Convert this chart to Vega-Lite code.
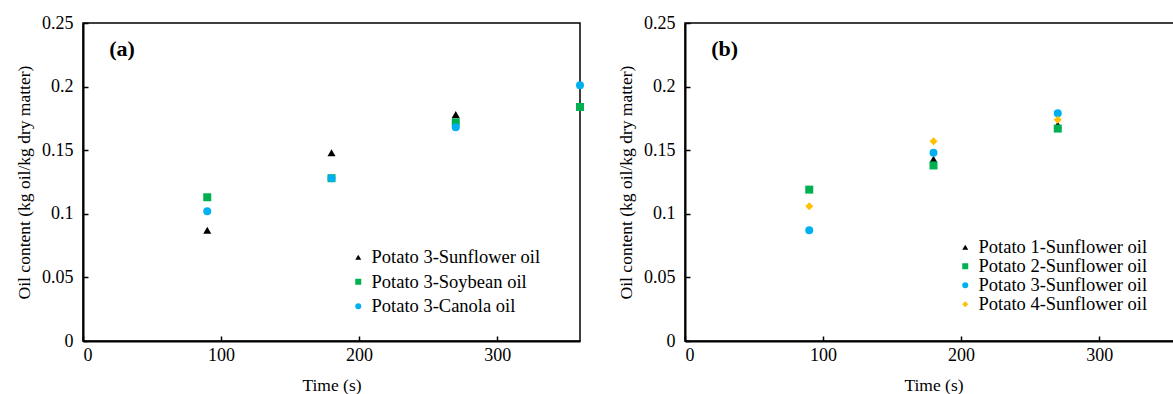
{
  "$schema": "https://vega.github.io/schema/vega-lite/v6.json",
  "background": "white",
  "padding": {"left": 14, "top": 13, "right": 0, "bottom": 0},
  "spacing": 31,
  "config": {
    "font": "Liberation Serif",
    "view": {"stroke": "black", "strokeWidth": 1.5},
    "axis": {
      "labelFont": "Liberation Serif", "titleFont": "Liberation Serif",
      "labelFontSize": 18, "titleFontSize": 17.5, "titleFontWeight": "normal",
      "labelColor": "black", "titleColor": "black",
      "domainColor": "black", "tickColor": "black", "domainWidth": 2, "tickWidth": 1.5,
      "grid": false, "tickSize": -5
    },
    "legend": {
      "labelFont": "Liberation Serif", "labelFontSize": 18.5, "labelColor": "black", "labelLimit": 400,
      "symbolStrokeWidth": 0, "labelOffset": 4, "symbolSize": 36
    }
  },
  "datasets": {
    "a": [
      {"t": 90, "v": 0.087, "s": "Potato 3-Sunflower oil"},
      {"t": 180, "v": 0.148, "s": "Potato 3-Sunflower oil"},
      {"t": 270, "v": 0.178, "s": "Potato 3-Sunflower oil"},
      {"t": 90, "v": 0.113, "s": "Potato 3-Soybean oil"},
      {"t": 180, "v": 0.128, "s": "Potato 3-Soybean oil"},
      {"t": 270, "v": 0.172, "s": "Potato 3-Soybean oil"},
      {"t": 360, "v": 0.184, "s": "Potato 3-Soybean oil"},
      {"t": 90, "v": 0.102, "s": "Potato 3-Canola oil"},
      {"t": 180, "v": 0.128, "s": "Potato 3-Canola oil"},
      {"t": 270, "v": 0.168, "s": "Potato 3-Canola oil"},
      {"t": 360, "v": 0.201, "s": "Potato 3-Canola oil"}
    ],
    "b": [
      {"t": 180, "v": 0.143, "s": "Potato 1-Sunflower oil"},
      {"t": 270, "v": 0.170, "s": "Potato 1-Sunflower oil"},
      {"t": 90, "v": 0.119, "s": "Potato 2-Sunflower oil"},
      {"t": 180, "v": 0.138, "s": "Potato 2-Sunflower oil"},
      {"t": 270, "v": 0.167, "s": "Potato 2-Sunflower oil"},
      {"t": 90, "v": 0.087, "s": "Potato 3-Sunflower oil"},
      {"t": 180, "v": 0.148, "s": "Potato 3-Sunflower oil"},
      {"t": 270, "v": 0.179, "s": "Potato 3-Sunflower oil"},
      {"t": 90, "v": 0.106, "s": "Potato 4-Sunflower oil"},
      {"t": 180, "v": 0.157, "s": "Potato 4-Sunflower oil"},
      {"t": 270, "v": 0.174, "s": "Potato 4-Sunflower oil"}
    ],
    "la": [{"t": 19, "v": 0.2295, "txt": "(a)"}],
    "lb": [{"t": 19, "v": 0.2295, "txt": "(b)"}]
  },
  "resolve": {"scale": {"color": "independent", "shape": "independent"}, "legend": {"color": "independent", "shape": "independent"}},
  "hconcat": [
    {
      "width": 497, "height": 318,
      "layer": [
        {
          "data": {"name": "a"},
          "mark": {"type": "point", "filled": true, "size": 64, "opacity": 1},
          "encoding": {
            "x": {"field": "t", "type": "quantitative", "scale": {"domain": [0, 360], "nice": false}, "axis": {"values": [0, 100, 200, 300], "title": "Time (s)", "titlePadding": 12, "labelPadding": 10}},
            "y": {"field": "v", "type": "quantitative", "scale": {"domain": [0, 0.25], "nice": false}, "axis": {"values": [0, 0.05, 0.1, 0.15, 0.2, 0.25], "format": "~g", "title": "Oil content (kg oil/kg dry matter)", "titlePadding": 8, "labelPadding": 15}},
            "color": {"field": "s", "type": "nominal", "scale": {"domain": ["Potato 3-Sunflower oil", "Potato 3-Soybean oil", "Potato 3-Canola oil"], "range": ["#000000", "#00b050", "#00b0f0"]}, "legend": {"title": null, "orient": "none", "legendX": 266, "legendY": 225, "rowPadding": 5.5}},
            "shape": {"field": "s", "type": "nominal", "scale": {"domain": ["Potato 3-Sunflower oil", "Potato 3-Soybean oil", "Potato 3-Canola oil"], "range": ["triangle-up", "square", "circle"]}, "legend": {"title": null, "orient": "none", "legendX": 266, "legendY": 225, "rowPadding": 5.5}}
          }
        },
        {
          "data": {"name": "la"},
          "mark": {"type": "text", "fontSize": 22, "fontWeight": "bold", "font": "Liberation Serif", "align": "left", "baseline": "middle"},
          "encoding": {"x": {"field": "t", "type": "quantitative"}, "y": {"field": "v", "type": "quantitative"}, "text": {"field": "txt"}}
        }
      ]
    },
    {
      "width": 497, "height": 318,
      "layer": [
        {
          "data": {"name": "b"},
          "mark": {"type": "point", "filled": true, "size": 64, "opacity": 1},
          "encoding": {
            "x": {"field": "t", "type": "quantitative", "scale": {"domain": [0, 360], "nice": false}, "axis": {"values": [0, 100, 200, 300], "title": "Time (s)", "titlePadding": 12, "labelPadding": 10}},
            "y": {"field": "v", "type": "quantitative", "scale": {"domain": [0, 0.25], "nice": false}, "axis": {"values": [0, 0.05, 0.1, 0.15, 0.2, 0.25], "format": "~g", "title": "Oil content (kg oil/kg dry matter)", "titlePadding": 8, "labelPadding": 15}},
            "color": {"field": "s", "type": "nominal", "scale": {"domain": ["Potato 1-Sunflower oil", "Potato 2-Sunflower oil", "Potato 3-Sunflower oil", "Potato 4-Sunflower oil"], "range": ["#000000", "#00b050", "#00b0f0", "#ffc000"]}, "legend": {"title": null, "orient": "none", "legendX": 271, "legendY": 215, "rowPadding": 0}},
            "shape": {"field": "s", "type": "nominal", "scale": {"domain": ["Potato 1-Sunflower oil", "Potato 2-Sunflower oil", "Potato 3-Sunflower oil", "Potato 4-Sunflower oil"], "range": ["triangle-up", "square", "circle", "diamond"]}, "legend": {"title": null, "orient": "none", "legendX": 271, "legendY": 215, "rowPadding": 0}}
          }
        },
        {
          "data": {"name": "lb"},
          "mark": {"type": "text", "fontSize": 22, "fontWeight": "bold", "font": "Liberation Serif", "align": "left", "baseline": "middle"},
          "encoding": {"x": {"field": "t", "type": "quantitative"}, "y": {"field": "v", "type": "quantitative"}, "text": {"field": "txt"}}
        }
      ]
    }
  ]
}
